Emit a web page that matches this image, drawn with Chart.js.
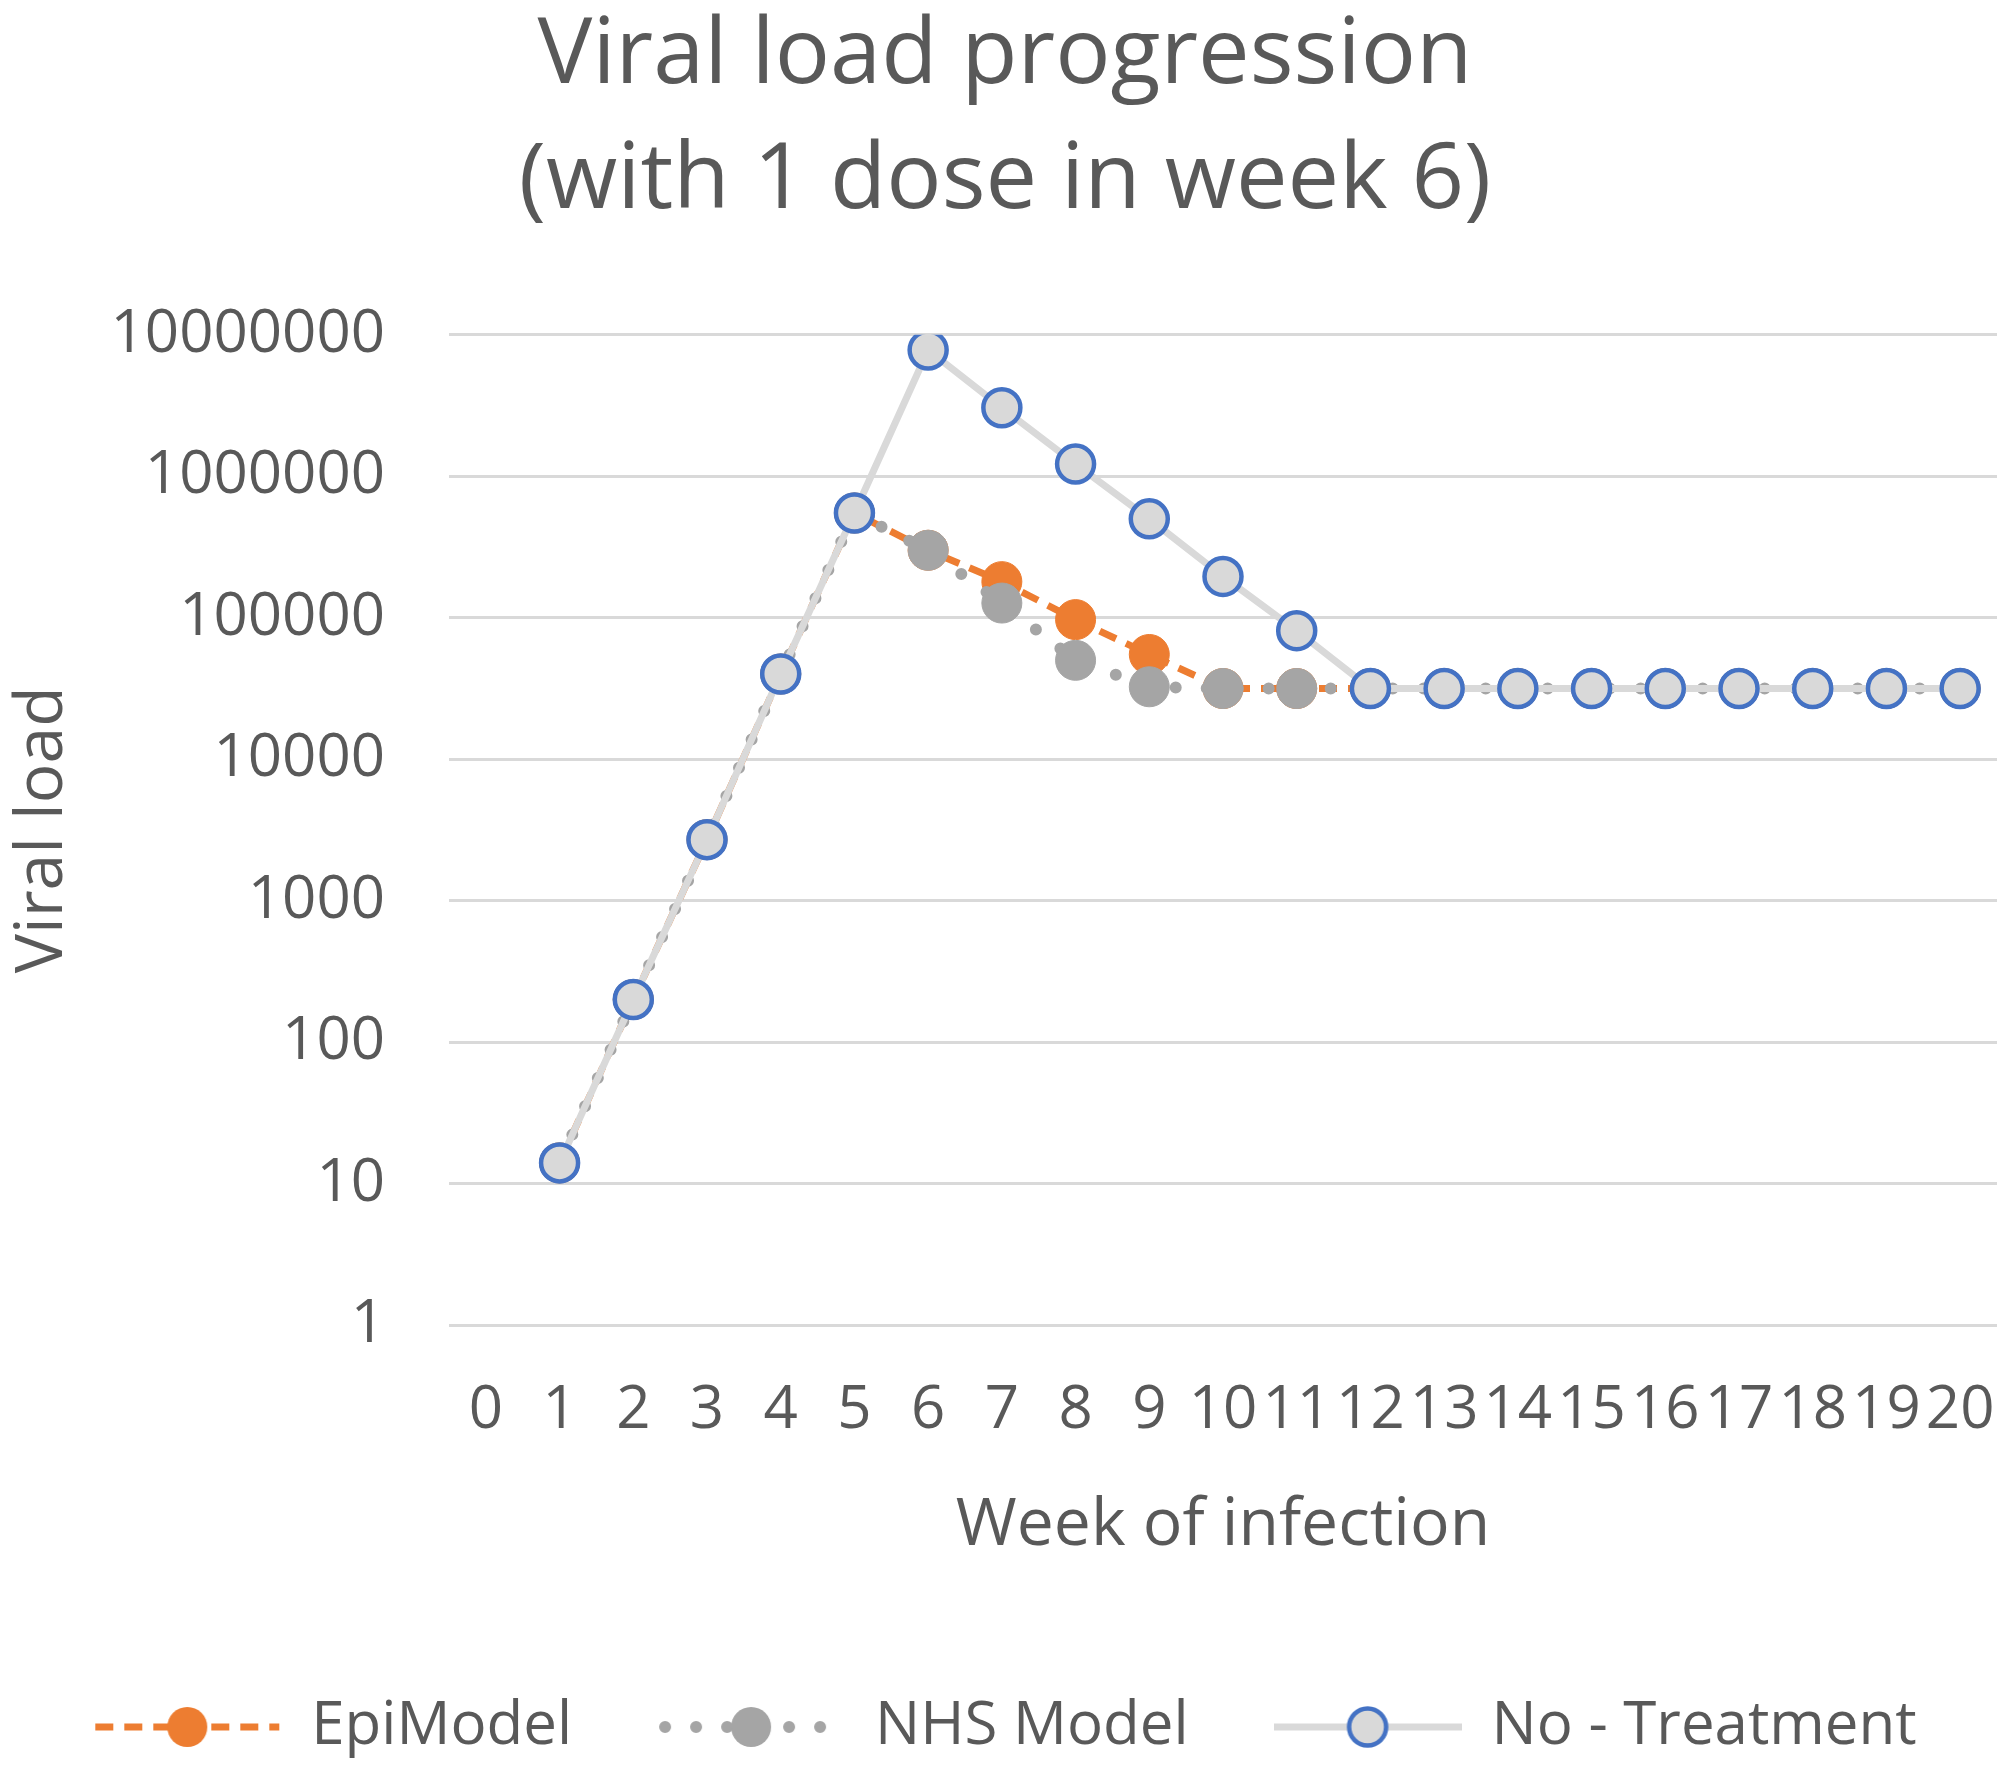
<!DOCTYPE html>
<html><head><meta charset="utf-8">
<script src="https://cdn.jsdelivr.net/npm/chart.js@4.4.1/dist/chart.umd.min.js"></script>
<style>html,body{margin:0;padding:0;background:#fff;} canvas{display:block}</style>
</head><body>
<canvas id="c" width="2010" height="1767"></canvas>
<script>
// ---- data ----
const weeks = ['0','1','2','3','4','5','6','7','8','9','10','11','12','13','14','15','16','17','18','19','20'];
const epiModel    = [null, 14, 200, 2700, 40000, 550000, 300000, 180000, 97000, 55000, 31600, 31600, 31600, 31600, 31600, 31600, 31600, 31600, 31600, 31600, 31600];
const nhsModel    = [null, 14, 200, 2700, 40000, 550000, 300000, 127000, 50000, 32500, 31600, 31600, 31600, 31600, 31600, 31600, 31600, 31600, 31600, 31600, 31600];
const noTreatment = [null, 14, 200, 2700, 40000, 550000, 7800000, 3050000, 1220000, 500000, 196000, 81000, 31600, 31600, 31600, 31600, 31600, 31600, 31600, 31600, 31600];
const yTicks = [1, 10, 100, 1000, 10000, 100000, 1000000, 10000000];
const seriesNames = ['EpiModel', 'NHS Model', 'No - Treatment'];
const titleLines = ['Viral load progression', '(with 1 dose in week 6)'];

const TXT = '#595959';
const ORANGE = '#ED7D31', GRAY = '#A5A5A5', LIGHT = '#D9D9D9', BLUE = '#4472C4';

function makeSymbol(kind) {
  const c = document.createElement('canvas');
  c.width = 188; c.height = 50;
  const g = c.getContext('2d');
  const cy = 25, cx = 94;
  g.beginPath();
  if (kind === 0) {
    g.strokeStyle = ORANGE; g.lineWidth = 7; g.setLineDash([18, 11]);
    g.moveTo(2, cy); g.lineTo(186, cy); g.stroke();
    g.setLineDash([]);
    g.beginPath(); g.fillStyle = ORANGE; g.arc(cx, cy, 20, 0, Math.PI * 2); g.fill();
  } else if (kind === 1) {
    g.strokeStyle = GRAY; g.lineWidth = 12; g.lineCap = 'round'; g.setLineDash([0, 31]);
    g.moveTo(8, cy); g.lineTo(186, cy); g.stroke();
    g.setLineDash([]);
    g.beginPath(); g.fillStyle = GRAY; g.arc(cx, cy, 20, 0, Math.PI * 2); g.fill();
  } else {
    g.strokeStyle = LIGHT; g.lineWidth = 7;
    g.moveTo(0, cy); g.lineTo(188, cy); g.stroke();
    g.beginPath(); g.fillStyle = LIGHT; g.strokeStyle = BLUE; g.lineWidth = 4.5;
    g.arc(cx, cy, 18.5, 0, Math.PI * 2); g.fill(); g.stroke();
  }
  return c;
}

function build() {
  Chart.defaults.font.family = "'Open Sans', 'Noto Sans', sans-serif";
  Chart.defaults.color = TXT;
  const symbols = [makeSymbol(0), makeSymbol(1), makeSymbol(2)];
  new Chart(document.getElementById('c'), {
    type: 'line',
    data: {
      labels: weeks,
      datasets: [
        { label: seriesNames[0], data: epiModel, order: 3,
          borderColor: ORANGE, borderWidth: 7, borderDash: [18, 11],
          pointRadius: 20, pointBackgroundColor: ORANGE, pointBorderColor: ORANGE, pointBorderWidth: 1 },
        { label: seriesNames[1], data: nhsModel, order: 2,
          borderColor: GRAY, borderWidth: 12, borderDash: [0, 31], borderCapStyle: 'round',
          pointRadius: 20, pointBackgroundColor: GRAY, pointBorderColor: GRAY, pointBorderWidth: 1 },
        { label: seriesNames[2], data: noTreatment, order: 1,
          borderColor: LIGHT, borderWidth: 7,
          pointRadius: 18.5, pointBackgroundColor: LIGHT, pointBorderColor: BLUE, pointBorderWidth: 4.5 }
      ]
    },
    options: {
      responsive: false,
      animation: false,
      devicePixelRatio: 1,
      layout: { autoPadding: false, padding: { left: 0, right: 0, top: 0, bottom: 0 } },
      scales: {
        x: {
          type: 'category',
          offset: true,
          grid: { display: false, drawTicks: false },
          border: { display: false },
          ticks: { autoSkip: false, maxRotation: 0, minRotation: 0, padding: 0, color: TXT,
                   font: { size: 60, lineHeight: 2.88 } },
          title: { display: true, text: 'Week of infection', color: TXT,
                   font: { size: 66 }, padding: { top: 0, bottom: 46 } },
          afterFit: s => { s.height = 287; s.paddingLeft = 0; s.paddingRight = 13; }
        },
        y: {
          type: 'logarithmic',
          min: 1, max: 10000000,
          grid: { color: LIGHT, lineWidth: 3, drawTicks: false },
          border: { display: false },
          afterBuildTicks: s => { s.ticks = yTicks.map(v => ({ value: v })); },
          ticks: { padding: 64, color: TXT, font: { size: 60 },
                   callback: v => String(v) },
          title: { display: true, text: 'Viral load', color: TXT,
                   font: { size: 66 }, padding: { top: 4, bottom: 0 } },
          afterFit: s => { s.width = 449; }
        }
      },
      plugins: {
        title: {
          display: true, text: titleLines, color: TXT,
          font: { size: 92, weight: 'normal', lineHeight: 1.36 },
          padding: { top: -6, bottom: 90.6 }
        },
        legend: {
          position: 'bottom',
          labels: {
            usePointStyle: true,
            pointStyleWidth: 188,
            padding: 85,
            color: TXT,
            font: { size: 60 },
            generateLabels: chart => seriesNames.map((n, i) => ({
              text: n, pointStyle: symbols[i], datasetIndex: i,
              fillStyle: 'transparent', strokeStyle: 'transparent', lineWidth: 0,
              fontColor: TXT, hidden: false
            }))
          }
        },
        tooltip: { enabled: false }
      }
    }
  });
}
(document.fonts ? document.fonts.load("60px 'Open Sans'") : Promise.resolve()).then(build, build);
</script>
</body></html>
